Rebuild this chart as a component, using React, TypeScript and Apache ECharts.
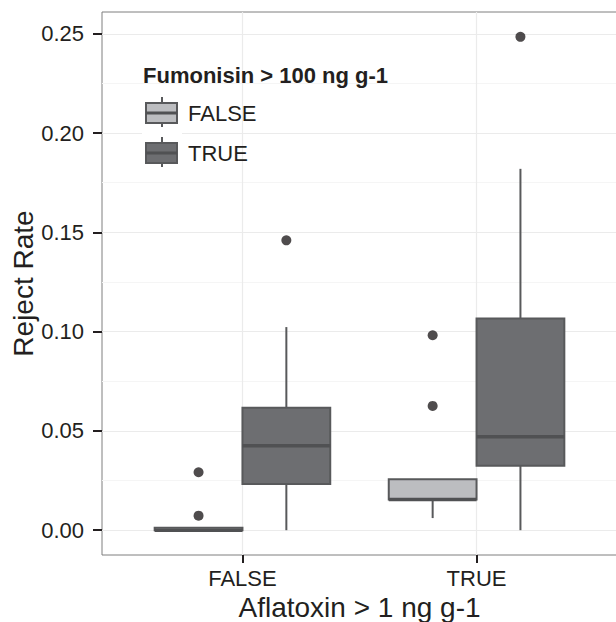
import React, { useEffect, useRef } from 'react';
import * as echarts from 'echarts';

const aflatoxinLevels = ['FALSE', 'TRUE'];
const fumonisinLevels = ['FALSE', 'TRUE'];
// [lower whisker, Q1, median, Q3, upper whisker] for each aflatoxin level
const fumonisinFalseBoxes = [
  [0, 0, 0, 0.0012, 0.0012],
  [0.0061, 0.0155, 0.0155, 0.0257, 0.0257],
];
const fumonisinTrueBoxes = [
  [0, 0.0232, 0.0425, 0.0617, 0.1023],
  [0, 0.0324, 0.0471, 0.1066, 0.182],
];
// [aflatoxin level index, reject rate]
const fumonisinFalseOutliers = [
  [0, 0.0073],
  [0, 0.0292],
  [1, 0.0626],
  [1, 0.0982],
];
const fumonisinTrueOutliers = [
  [0, 0.146],
  [1, 0.2485],
];
const yTicks = [0, 0.05, 0.1, 0.15, 0.2, 0.25];
const yMinorTicks = [0.025, 0.075, 0.125, 0.175, 0.225];

const FONT = '"Liberation Sans", Arial, Helvetica, sans-serif';
const TEXT = '#231f20';
const EDGE = '#58595b';
const MEDIAN = '#505153';
const FILLS = ['#bcbdc0', '#6d6e71'];
const DODGE = 0.1875;

function makeRender(fill: string) {
  return (params: any, api: any) => {
    const x = api.value(0);
    const lo = api.coord([x, api.value(1)]);
    const q1 = api.coord([x, api.value(2)]);
    const md = api.coord([x, api.value(3)]);
    const q3 = api.coord([x, api.value(4)]);
    const hi = api.coord([x, api.value(5)]);
    const half = api.size([DODGE, 0])[0];
    const cx = lo[0];
    return {
      type: 'group',
      children: [
        { type: 'line', shape: { x1: cx, y1: q3[1], x2: cx, y2: hi[1] }, style: { stroke: EDGE, lineWidth: 2 } },
        { type: 'line', shape: { x1: cx, y1: q1[1], x2: cx, y2: lo[1] }, style: { stroke: EDGE, lineWidth: 2 } },
        {
          type: 'rect',
          shape: { x: cx - half, y: q3[1], width: half * 2, height: q1[1] - q3[1] },
          style: { fill, stroke: EDGE, lineWidth: 2 },
        },
        {
          type: 'line',
          shape: { x1: cx - half, y1: md[1], x2: cx + half, y2: md[1] },
          style: { stroke: MEDIAN, lineWidth: 3.5 },
        },
      ],
    };
  };
}

function legendKey(y: number, fill: string, label: string) {
  const x = 142;
  return [
    { type: 'rect', shape: { x, y, width: 40, height: 40 }, style: { fill: '#ffffff' }, z: 10 },
    { type: 'line', shape: { x1: x + 20, y1: y + 5, x2: x + 20, y2: y + 35 }, style: { stroke: EDGE, lineWidth: 2 }, z: 11 },
    {
      type: 'rect',
      shape: { x: x + 4, y: y + 11, width: 31, height: 20 },
      style: { fill, stroke: EDGE, lineWidth: 2 },
      z: 12,
    },
    { type: 'line', shape: { x1: x + 4, y1: y + 21, x2: x + 35, y2: y + 21 }, style: { stroke: MEDIAN, lineWidth: 3 }, z: 13 },
    {
      type: 'text',
      x: 188,
      y: y + 21,
      style: { text: label, font: `22px ${FONT}`, fill: TEXT, textVerticalAlign: 'middle' },
      z: 13,
    },
  ];
}

export default function App() {
  const ref = useRef<HTMLDivElement>(null);
  useEffect(() => {
    if (!ref.current) return;
    const chart = echarts.init(ref.current, null, { renderer: 'svg' });
    const boxSeries = [fumonisinFalseBoxes, fumonisinTrueBoxes].map((boxes, s) => ({
      type: 'custom',
      name: fumonisinLevels[s],
      renderItem: makeRender(FILLS[s]),
      encode: { x: 0, y: [1, 2, 3, 4, 5] },
      data: boxes.map((b, i) => [i + 1 + (s === 0 ? -DODGE : DODGE), ...b]),
      z: 3,
    }));
    const outlierSeries = [fumonisinFalseOutliers, fumonisinTrueOutliers].map((pts, s) => ({
      type: 'scatter',
      name: fumonisinLevels[s] + ' outliers',
      symbol: 'circle',
      symbolSize: 10,
      itemStyle: { color: TEXT },
      data: pts.map(([i, v]) => [i + 1 + (s === 0 ? -DODGE : DODGE), v]),
      z: 4,
    }));
    chart.setOption({
      animation: false,
      backgroundColor: '#ffffff',
      grid: {
        left: 102,
        top: 12,
        width: 515,
        height: 543,
        show: true,
        containLabel: false,
        outerBoundsMode: 'none',
        borderColor: '#7f7f7f',
        borderWidth: 1,
        backgroundColor: '#ffffff',
      },
      xAxis: {
        type: 'value',
        min: 0.4,
        max: 2.6,
        position: 'bottom',
        name: 'Aflatoxin > 1 ng g-1',
        nameLocation: 'middle',
        nameGap: 38,
        nameTextStyle: { fontSize: 28, color: TEXT, fontFamily: FONT },
        axisLine: { show: false, onZero: false },
        axisTick: { show: true, customValues: [1, 2], length: 8, lineStyle: { color: TEXT, width: 2 } },
        axisLabel: {
          customValues: [1, 2],
          formatter: (v: number) => aflatoxinLevels[Math.round(v) - 1] ?? '',
          fontSize: 22,
          color: TEXT,
          fontFamily: FONT,
          margin: 12,
        },
        splitLine: { show: true, lineStyle: { color: '#ebebeb', width: 1.2 } },
      },
      yAxis: [
        {
          type: 'value',
          min: -0.0125,
          max: 0.261,
          position: 'left',
          axisLine: { show: false, onZero: false },
          axisTick: { show: true, customValues: yTicks, length: 9, lineStyle: { color: TEXT, width: 2 } },
          axisLabel: {
            customValues: yTicks,
            formatter: (v: number) => v.toFixed(2),
            fontSize: 22,
            color: TEXT,
            fontFamily: FONT,
            margin: 18,
          },
          splitLine: { show: true, lineStyle: { color: '#ebebeb', width: 1.2 } },
        },
        {
          type: 'value',
          min: -0.0125,
          max: 0.261,
          position: 'left',
          axisLine: { show: false, onZero: false },
          axisTick: { show: false, customValues: yMinorTicks },
          axisLabel: { show: false, customValues: yMinorTicks },
          splitLine: { show: true, lineStyle: { color: '#f5f5f5', width: 1 } },
        },
      ],
      graphic: [
        {
          type: 'text',
          x: 23,
          y: 283.5,
          rotation: Math.PI / 2,
          style: {
            text: 'Reject Rate',
            font: `28px ${FONT}`,
            fill: TEXT,
            textAlign: 'center',
            textVerticalAlign: 'middle',
          },
        },
        {
          type: 'text',
          x: 143,
          y: 75,
          style: {
            text: 'Fumonisin > 100 ng g-1',
            font: `bold 22px ${FONT}`,
            fill: TEXT,
            textVerticalAlign: 'middle',
          },
          z: 13,
        },
        ...legendKey(92, FILLS[0], fumonisinLevels[0]),
        ...legendKey(132, FILLS[1], fumonisinLevels[1]),
      ],
      series: [...boxSeries, ...outlierSeries],
    });
    return () => chart.dispose();
  }, []);
  return <div ref={ref} style={{ position: 'absolute', left: 0, top: 0, width: 616, height: 622 }} />;
}
